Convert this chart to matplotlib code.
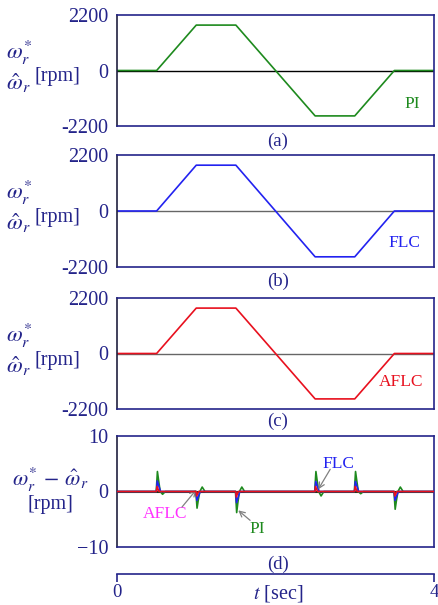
import matplotlib
matplotlib.use("Agg")
import matplotlib.pyplot as plt

# ---------------- data ----------------
t_profile = [0.0, 0.5, 1.0, 1.5, 2.5, 3.0, 3.5, 4.0]
speed_profile = [0, 0, 1800, 1800, -1800, -1800, 0, 0]

# speed error transients (rpm)
t_err_pi = [0.0, 0.495, 0.51, 0.525, 0.545, 0.575, 0.61,
            0.995, 1.01, 1.025, 1.045, 1.075, 1.11,
            1.495, 1.51, 1.525, 1.545, 1.575, 1.61,
            2.495, 2.51, 2.525, 2.545, 2.575, 2.61,
            2.995, 3.01, 3.025, 3.045, 3.075, 3.11,
            3.495, 3.51, 3.525, 3.545, 3.575, 3.61, 4.0]
err_pi = [0, 0, 3.6, 2.0, 0, -0.5, 0,
          0, -3.0, -1.6, 0, 0.8, 0,
          0, -3.8, -2.0, 0, 0.8, 0,
          0, 3.6, 2.0, 0, -0.8, 0,
          0, 3.6, 2.0, 0, -0.4, 0,
          0, -3.2, -1.7, 0, 0.8, 0, 0]

t_err_flc = [0.0, 0.497, 0.508, 0.55,
             0.997, 1.008, 1.05,
             1.497, 1.508, 1.55,
             2.497, 2.508, 2.55,
             2.997, 3.008, 3.05,
             3.497, 3.508, 3.55, 4.0]
err_flc = [0, 0, 1.9, 0,
           0, -1.6, 0,
           0, -2.0, 0,
           0, 1.8, 0,
           0, 1.8, 0,
           0, -1.6, 0, 0]

t_err_aflc = [0.0, 0.498, 0.505, 0.53,
              0.998, 1.005, 1.03,
              1.498, 1.505, 1.53,
              2.498, 2.505, 2.53,
              2.998, 3.005, 3.03,
              3.498, 3.505, 3.53, 4.0]
err_aflc = [0, 0, 0.9, 0,
            0, -0.8, 0,
            0, -1.0, 0,
            0, 0.9, 0,
            0, 0.9, 0,
            0, -0.8, 0, 0]

panel_names = ["PI", "FLC", "AFLC"]
panel_tags = ["(a)", "(b)", "(c)", "(d)"]
speed_ticks = [-2200, 0, 2200]
speed_ticklabels = ["-2200", "0", "2200"]
err_ticks = [-10, 0, 10]
err_ticklabels = ["\u221210", "0", "10"]
time_ticks = [0, 4]
time_ticklabels = ["0", "4"]

# ---------------- style ----------------
plt.rcParams["font.family"] = ["Liberation Serif", "DejaVu Serif"]
plt.rcParams["mathtext.fontset"] = "stix"

NAVY = "#24248a"
C_PI = "#1e8a1e"
C_FLC = "#2222f0"
C_AFLC = "#e8101e"
C_MAG = "#ff30ff"

W, H = 439, 605
fig = plt.figure(figsize=(W / 100, H / 100), dpi=100)


def fx(px):
    return px / W


def fy(py):
    return 1 - py / H


def make_axes(top, bottom):
    ax = fig.add_axes([fx(117), fy(bottom), fx(434) - fx(117), fy(top) - fy(bottom)])
    for s in ax.spines.values():
        s.set_color(NAVY)
        s.set_linewidth(1.2)
    ax.spines["left"].set_color("#202040")
    ax.set_xlim(0, 4)
    ax.set_xticks([])
    ax.tick_params(axis="y", length=0, pad=6, labelsize=14.5, labelcolor=NAVY)
    return ax


panel_px = [(15, 126), (155, 267), (298, 409), (436, 547)]
line_colors = [C_PI, C_FLC, C_AFLC]
zero_colors = ["black", "#666666", "#666666"]
name_pos = [(3.72, -1320, C_PI), (3.63, -1240, C_FLC), (3.58, -1130, C_AFLC)]
tag_py = [141, 281, 421, 564]

for i in range(3):
    ax = make_axes(*panel_px[i])
    ax.set_ylim(-2200, 2200)
    ax.set_yticks(speed_ticks)
    ax.set_yticklabels(speed_ticklabels)
    ax.axhline(0, color=zero_colors[i], lw=1.0, zorder=1)
    ax.plot(t_profile, speed_profile, color=line_colors[i], lw=1.2, zorder=2)
    x, y, c = name_pos[i]
    ax.text(x, y, panel_names[i], color=c, fontsize=12.5, ha="center", va="center")
    top, bottom = panel_px[i]
    fig.text(fx(6), fy(top + 37), r"$\omega_r^{*}$", fontsize=16.5, color=NAVY,
             ha="left", va="center")
    fig.text(fx(6), fy(top + 68), r"$\hat{\omega}_r$", fontsize=16.5, color=NAVY,
             ha="left", va="center")
    fig.text(fx(34), fy(top + 62), "[rpm]", fontsize=14.5, color=NAVY,
             ha="left", va="center")

# panel (d)
axd = make_axes(*panel_px[3])
axd.set_ylim(-10, 10)
axd.set_yticks(err_ticks)
axd.set_yticklabels(err_ticklabels)
axd.axhline(0, color="#1a3a1a", lw=1.5, zorder=1)
axd.plot(t_err_pi, err_pi, color=C_PI, lw=1.2, zorder=2)
axd.plot(t_err_flc, err_flc, color=C_FLC, lw=1.2, zorder=3)
axd.plot(t_err_aflc, err_aflc, color=C_AFLC, lw=1.2, zorder=4)

arrow = dict(arrowstyle="->", color="#808080", lw=0.9, shrinkA=0, shrinkB=0)
axd.text(0.61, -4.0, "AFLC", color=C_MAG, fontsize=12.5, ha="center", va="center")
axd.annotate("", xy=(1.0, 0.3), xytext=(0.82, -2.8), arrowprops=arrow)
axd.text(1.77, -6.8, "PI", color=C_PI, fontsize=12.5, ha="center", va="center")
axd.annotate("", xy=(1.53, -3.4), xytext=(1.68, -5.2), arrowprops=arrow)
axd.text(2.79, 5.0, "FLC", color=C_FLC, fontsize=12.5, ha="center", va="center")
axd.annotate("", xy=(2.54, 0.4), xytext=(2.69, 4.0), arrowprops=arrow)

fig.text(fx(12), fy(480), r"$\omega_r^{*}\,-\,\hat{\omega}_r$", fontsize=16, color=NAVY,
         ha="left", va="center")
fig.text(fx(50), fy(504), "[rpm]", fontsize=14.5, color=NAVY, ha="center", va="center")

for i in range(4):
    fig.text(fx(278), fy(tag_py[i]), panel_tags[i], fontsize=13.5, color=NAVY,
             ha="center", va="center")

# bottom time axis
axt = fig.add_axes([fx(117), fy(574), fx(434) - fx(117), 0.001])
for s in ["left", "right", "top"]:
    axt.spines[s].set_visible(False)
axt.spines["bottom"].set_color(NAVY)
axt.spines["bottom"].set_linewidth(1.2)
axt.set_xlim(0, 4)
axt.set_yticks([])
axt.set_xticks(time_ticks)
axt.set_xticklabels(time_ticklabels)
axt.tick_params(axis="x", length=6, width=1.2, color=NAVY, pad=1.5,
                labelsize=13.5, labelcolor=NAVY)
fig.text(fx(278), fy(594), r"$t$ [sec]", fontsize=14.5, color=NAVY,
         ha="center", va="center")

fig.savefig("out.png", dpi=100)
